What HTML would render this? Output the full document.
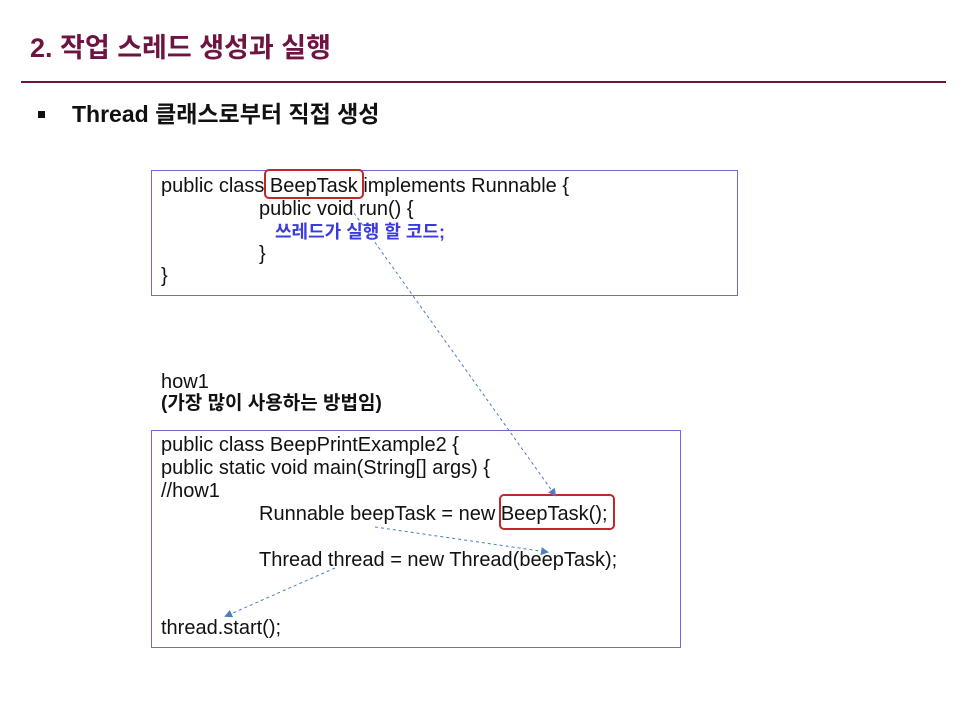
<!DOCTYPE html>
<html><head><meta charset="utf-8"><style>
body{margin:0;width:969px;height:727px;background:#fff;position:relative;overflow:hidden;font-family:"Liberation Sans","Noto Sans CJK KR",sans-serif;color:#111}
.t{position:absolute;white-space:nowrap;font-size:20px;line-height:22px}
.box{position:absolute;border:1px solid #6b6bd0}
.red{position:absolute;border:2px solid #c0282d;border-radius:5px}
</style></head><body>
<div class="t" style="left:30px;top:32px;font-size:27px;line-height:32px;font-weight:bold;color:#6e1440">2. 작업 스레드 생성과 실행</div>
<div style="position:absolute;left:21px;top:81px;width:925px;height:2px;background:#6e1440"></div>
<div style="position:absolute;left:38px;top:111px;width:7px;height:7px;background:#111"></div>
<div class="t" style="left:72px;top:100px;font-size:23px;line-height:28px;font-weight:bold">Thread 클래스로부터 직접 생성</div>

<div class="box" style="left:151px;top:170px;width:585px;height:124px"></div>
<div class="t" style="left:161px;top:175px">public class BeepTask implements Runnable {</div>
<div class="t" style="left:259px;top:198px">public void run() {</div>
<div class="t" style="left:275px;top:221px;color:#3a3ae0;font-weight:bold;font-size:18px">쓰레드가 실행 할 코드;</div>
<div class="t" style="left:259px;top:243px">}</div>
<div class="t" style="left:161px;top:265px">}</div>
<div class="red" style="left:264px;top:169px;width:96px;height:26px"></div>

<div class="t" style="left:161px;top:371px">how1</div>
<div class="t" style="left:161px;top:393px;font-weight:bold;font-size:19px">(가장 많이 사용하는 방법임)</div>

<div class="box" style="left:151px;top:430px;width:528px;height:216px"></div>
<div class="t" style="left:161px;top:434px">public class BeepPrintExample2 {</div>
<div class="t" style="left:161px;top:457px">public static void main(String[] args) {</div>
<div class="t" style="left:161px;top:480px">//how1</div>
<div class="t" style="left:259px;top:503px">Runnable beepTask = new BeepTask();</div>
<div class="t" style="left:259px;top:549px">Thread thread = new Thread(beepTask);</div>
<div class="t" style="left:161px;top:617px">thread.start();</div>
<div class="red" style="left:499px;top:494px;width:112px;height:32px"></div>

<svg style="position:absolute;left:0;top:0" width="969" height="727">
<defs><marker id="a" markerWidth="8" markerHeight="8" refX="6" refY="4" orient="auto"><path d="M0,0 L8,4 L0,8z" fill="#4a7fc0"/></marker></defs>
<g stroke="#4a7fc0" stroke-width="1" stroke-dasharray="3,3" fill="none">
<line x1="354" y1="213" x2="555" y2="495" marker-end="url(#a)"/>
<line x1="375" y1="527" x2="547" y2="552" marker-end="url(#a)"/>
<line x1="335" y1="568" x2="226" y2="616" marker-end="url(#a)"/>
</g></svg>
</body></html>
